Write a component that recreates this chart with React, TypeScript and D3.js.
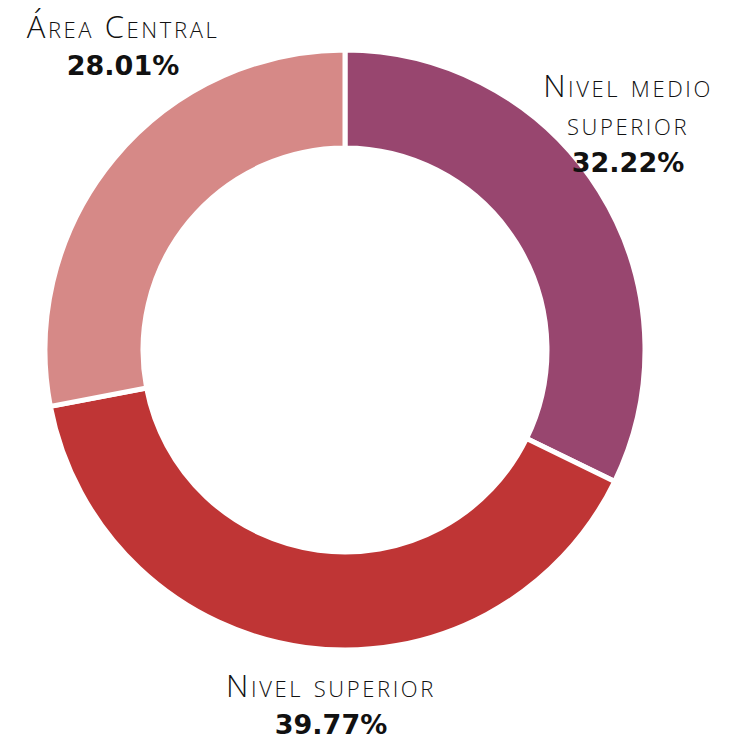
import React, { useEffect, useRef } from 'react';
import * as d3 from 'd3';

// slice data, clockwise from 12 o'clock
const labels = ['Nivel medio superior', 'Nivel superior', 'Área Central'];
const values = [32.22, 39.77, 28.01];
const colors = ['#98466f', '#bf3535', '#d68987'];

// label text lines (name broken the way the source shows it)
const labelLines = [['Nivel medio', 'superior'], ['Nivel superior'], ['Área Central']];
// where each label block sits (x centre, y of first baseline)
const labelPos = [
	[628, 97],
	[331, 697],
	[123, 38],
];

function App() {
	const ref = useRef<SVGSVGElement>(null);

	useEffect(() => {
		const w = 743;
		const h = 741;
		const cx = 345;
		const cy = 350;
		const outer = 300;
		const inner = 202;

		const svg = d3.select(ref.current);
		svg.selectAll('*').remove();
		svg.attr('width', w).attr('height', h);

		const pie = d3.pie<number>().sort(null).value(d => d);
		const arc = d3.arc<d3.PieArcDatum<number>>().innerRadius(inner).outerRadius(outer);

		const g = svg.append('g').attr('transform', `translate(${cx},${cy})`);
		g.selectAll('path')
			.data(pie(values))
			.enter()
			.append('path')
			.attr('d', arc)
			.attr('fill', (d, i) => colors[i])
			.attr('stroke', '#fff')
			.attr('stroke-width', 5)
			.attr('stroke-linejoin', 'miter');

		const lab = svg.selectAll('g.lab')
			.data(values)
			.enter()
			.append('g')
			.attr('class', 'lab')
			.attr('transform', (d, i) => `translate(${labelPos[i][0]},${labelPos[i][1]})`);

		lab.each(function (d, i) {
			const sel = d3.select(this);
			labelLines[i].forEach((line, j) => {
				sel.append('text')
					.text(line)
					.attr('y', j * 38)
					.attr('text-anchor', 'middle')
					.attr('font-family', '"Open Sans", Lato, sans-serif')
					.attr('font-weight', 300)
					.attr('font-size', '31px')
					.attr('letter-spacing', '2.6px')
					.style('font-variant', 'small-caps')
					.attr('fill', '#111');
			});
			sel.append('text')
				.text(d.toFixed(2) + '%')
				.attr('y', labelLines[i].length * 38 - 1)
				.attr('text-anchor', 'middle')
				.attr('font-family', '"DejaVu Sans", sans-serif')
				.attr('font-weight', 700)
				.attr('font-size', '27px')
				.attr('fill', '#111');
		});
	}, []);

	return (
		<div>
			<svg ref={ref} style={{ position: 'absolute', left: 0, top: 0 }} />
		</div>
	);
}

export default App;
